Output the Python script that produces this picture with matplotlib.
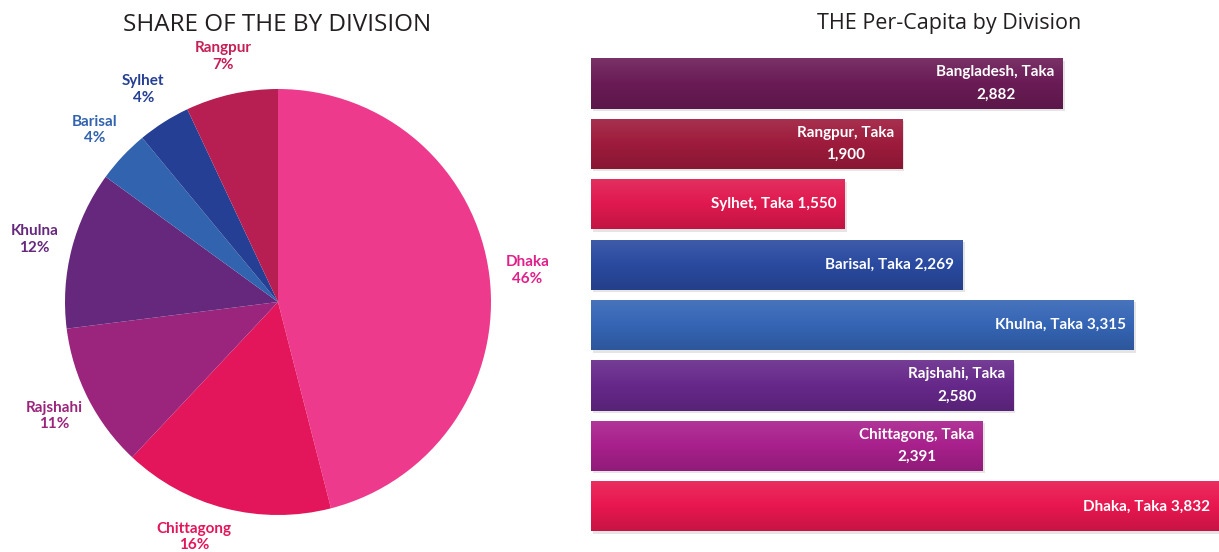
import numpy as np
import matplotlib.pyplot as plt
from matplotlib.colors import LinearSegmentedColormap, to_rgb

# pie: share by division
pie_names = ['Dhaka', 'Chittagong', 'Rajshahi', 'Khulna', 'Barisal', 'Sylhet', 'Rangpur']
pie_share = [46, 16, 11, 12, 4, 4, 7]
pie_colors = ['#EE3A8C', '#E3165B', '#9B247D', '#66287C', '#3163AE', '#243F94', '#B71E51']
pie_text_colors = ['#E0218A', '#E3165B', '#9B247D', '#66287C', '#3163AE', '#243F94', '#C51F55']

# bars: per-capita, top to bottom
bar_names = ['Bangladesh', 'Rangpur', 'Sylhet', 'Barisal', 'Khulna', 'Rajshahi', 'Chittagong', 'Dhaka']
bar_values = [2882, 1900, 1550, 2269, 3315, 2580, 2391, 3832]
bar_colors = ['#6A1B55', '#9E1B3C', '#E0194F', '#2A4AA0', '#3565B5', '#66288A', '#A8208C', '#E8174F']
two_line = ['Bangladesh', 'Rangpur', 'Rajshahi', 'Chittagong']

W, H = 1219, 552
fig = plt.figure(figsize=(W / 100, H / 100), dpi=100)

# pie axes, placed in pixels: centre (278, 302), radius 213
cx, cy, r = 278, 302, 213
ax1 = fig.add_axes([(cx - r) / W, (H - cy - r) / H, 2 * r / W, 2 * r / H])
wedges, texts = ax1.pie(pie_share, colors=pie_colors, startangle=90, counterclock=False,
                        labels=[f'{n}\n{v}%' for n, v in zip(pie_names, pie_share)],
                        labeldistance=1.18, wedgeprops=dict(linewidth=0))
for t, c in zip(texts, pie_text_colors):
    t.set_ha('center')
    t.set_va('center')
    t.set_color(c)
    t.set_fontfamily('Lato')
    t.set_fontweight('bold')
    t.set_fontsize(11)
    t.set_linespacing(1.25)
# pull the bottom label back in so it stays on the canvas
tx, ty = texts[1].get_position()
texts[1].set_position((tx - 0.1, ty + 0.04))
ax1.set_xlim(-1, 1)
ax1.set_ylim(-1, 1)
ax1.set_aspect('equal')

fig.text(277 / W, 1 - 25 / H, 'SHARE OF THE BY DIVISION', ha='center', va='center',
         fontsize=17.5, family='Open Sans', color='#231F20')

# bar axes
pitch = 60.4
top_px = 83.5 - pitch / 2
ax2 = fig.add_axes([591 / W, (H - (top_px + 8 * pitch)) / H, (W - 591) / W, 8 * pitch / H])
ypos = np.arange(len(bar_names))[::-1]
h = 0.83

def shade(c, f):
    c = np.array(to_rgb(c))
    return tuple(np.clip(c * f, 0, 1)) if f < 1 else tuple(c + (1 - c) * (f - 1))

# soft drop shadow
ax2.barh(ypos - 0.04, bar_values, height=h, left=12, color='#000000', alpha=0.10, linewidth=0)
bars = ax2.barh(ypos, bar_values, height=h, color=bar_colors, linewidth=0)
grad = np.linspace(0, 1, 100).reshape(-1, 1)
for b, c in zip(bars, bar_colors):
    cmap = LinearSegmentedColormap.from_list('g', [shade(c, 1.10), c, shade(c, 0.86)])
    x0, y0, bw, bh = b.get_x(), b.get_y(), b.get_width(), b.get_height()
    im = ax2.imshow(grad, cmap=cmap, aspect='auto', extent=(x0, x0 + bw, y0, y0 + bh),
                    origin='upper', zorder=2)
    im.set_clip_path(b)

for y, n, v in zip(ypos, bar_names, bar_values):
    if n in two_line:
        label = f'{n}, Taka\n{v:,}'
    else:
        label = f'{n}, Taka {v:,}'
    ax2.text(v - 50, y, label, ha='right', va='center', multialignment='center',
             color='white', fontsize=11, family='Lato', fontweight='bold',
             linespacing=1.75, zorder=3)

ax2.set_xlim(0, 3835)
ax2.set_ylim(-0.5, len(bar_names) - 0.5)
ax2.axis('off')

fig.text(949 / W, 1 - 24 / H, 'THE Per-Capita by Division', ha='center', va='center',
         fontsize=15.5, family='Open Sans', color='#231F20')

fig.savefig('out.png', dpi=100)
